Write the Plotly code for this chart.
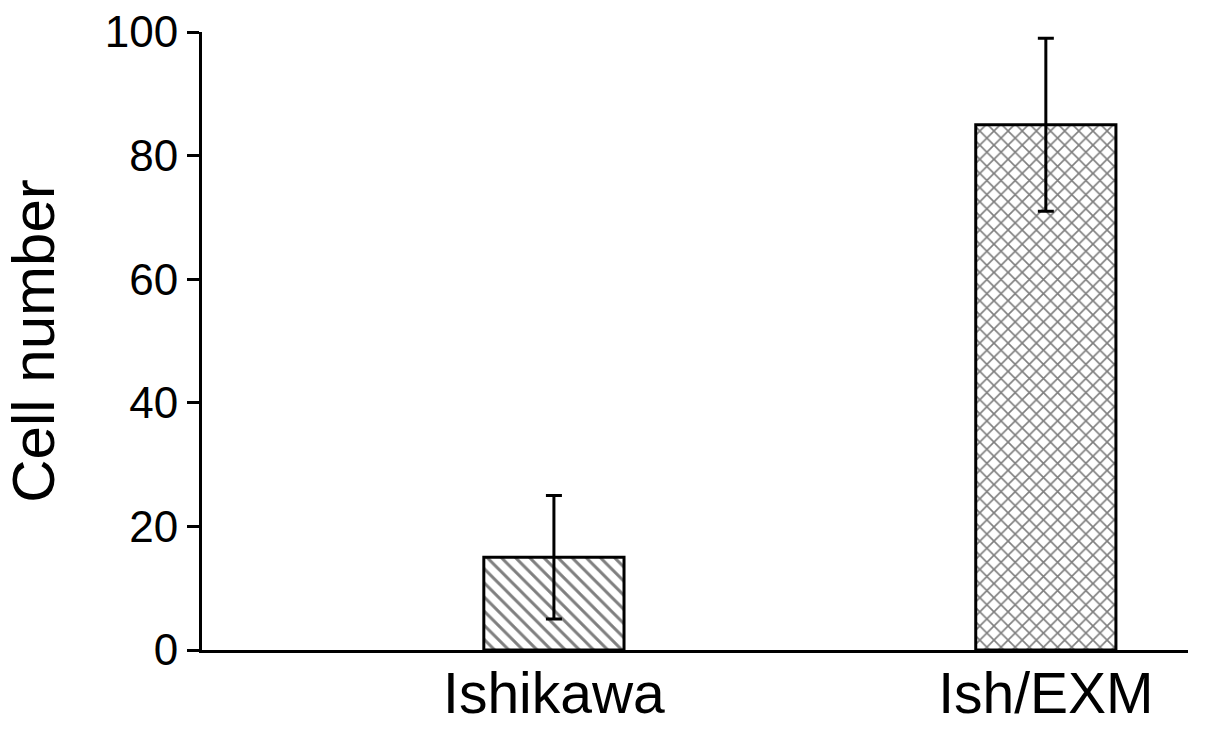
import plotly.graph_objects as go

categories = ["Ishikawa", "Ish/EXM"]
values = [15, 85]
errors = [10, 14]
patterns = ["\\", "x"]
y_ticks = [0, 20, 40, 60, 80, 100]

fig = go.Figure()
fig.add_trace(go.Bar(
    x=categories,
    y=values,
    width=0.285,
    error_y=dict(type="data", array=errors, visible=True, color="black", thickness=3, width=8),
    marker=dict(
        color="white",
        line=dict(color="black", width=3),
        pattern=dict(shape=patterns, fgcolor="black", bgcolor="white", size=10, solidity=0.3),
    ),
))

font = "Liberation Sans, Arial, sans-serif"
fig.update_layout(
    width=1205, height=729,
    margin=dict(l=202, r=17, t=32, b=79),
    paper_bgcolor="white", plot_bgcolor="white",
    showlegend=False,
    font=dict(family=font, color="black"),
    xaxis=dict(
        range=[-0.7154, 1.289],
        showline=True, linecolor="black", linewidth=3,
        ticks="", showgrid=False, zeroline=False,
        tickfont=dict(size=57), automargin=False,
        ticklabelstandoff=-8,
    ),
    yaxis=dict(
        range=[0, 100],
        tickvals=y_ticks,
        showline=True, linecolor="black", linewidth=3,
        ticks="outside", ticklen=12, tickwidth=3, tickcolor="black",
        showgrid=False, zeroline=False,
        tickfont=dict(size=44), automargin=False,
        title=dict(text="Cell number", font=dict(size=60), standoff=50),
    ),
)

fig.write_html(
    "out.html",
    config={"displayModeBar": False},
    post_script="document.body.style.margin='0px';document.body.style.overflow='hidden';",
)
